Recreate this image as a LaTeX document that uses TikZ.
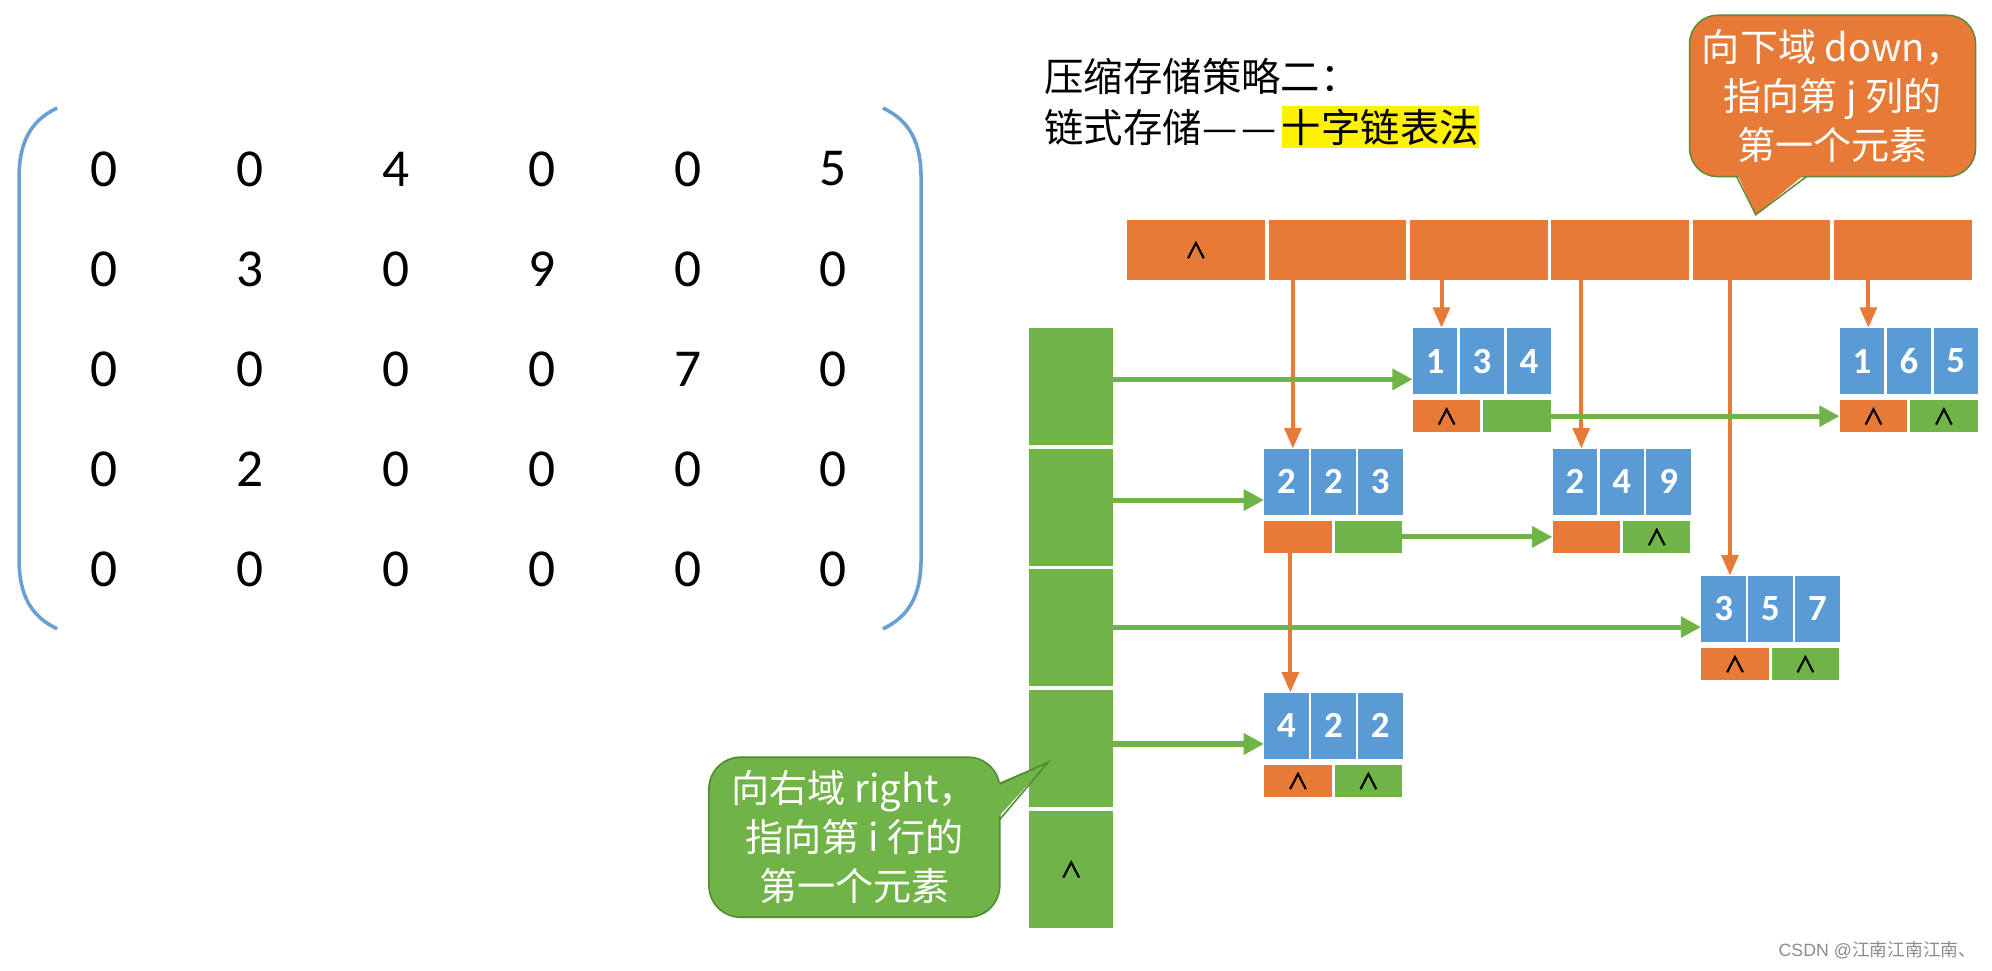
\documentclass[tikz,border=0pt]{standalone}
\usepackage{fontspec}
\setmainfont{Carlito}
\newfontfamily\cjk{Noto Sans CJK SC}
\newfontfamily\nulfont{Noto Sans CJK SC}[FakeBold=3]
\newfontfamily\wmfont{Liberation Sans}
\usetikzlibrary{positioning,arrows.meta,calc}
\definecolor{naranja}{HTML}{E67A36}
\definecolor{azul}{HTML}{5B9BD5}
\definecolor{verde}{HTML}{70B347}
\definecolor{oliva}{HTML}{62883A}
\definecolor{verdeosc}{HTML}{4F8A2E}
\definecolor{corchete}{HTML}{6A9FD4}
\definecolor{marca}{HTML}{8C8C8C}
\newcommand{\nulo}{{\nulfont\fontsize{17}{17}\selectfont ∧}}

\begin{document}
\begin{tikzpicture}[x=1pt, y=-1pt, font=\fontsize{29}{29}\selectfont,
      bc/.style={fill=azul, minimum width=35pt, minimum height=52pt, inner sep=0pt,
                 text=white, font=\bfseries\fontsize{29}{29}\selectfont},
      lc/.style={minimum width=53pt, minimum height=25pt, inner sep=0pt},
      dc/.style={lc, fill=naranja},
      rc/.style={lc, fill=verde},
      hc/.style={fill=naranja, minimum width=108.3pt, minimum height=47pt, inner sep=0pt, anchor=north west},
      vc/.style={fill=verde, minimum width=66pt, minimum height=92pt, inner sep=0pt, anchor=north west},
      dn/.style={naranja, line width=3.2pt, -{Triangle[length=16pt,width=13pt]}},
      rt/.style={verde, line width=4pt, -{Triangle[length=16pt,width=16pt]}},
      callo/.style={line width=1.2pt, text=white, align=center, inner sep=0pt,
                    font=\cjk\fontsize{30}{38.5}\selectfont},
      tt/.style={inner sep=0pt, font=\cjk\fontsize{31}{31}\selectfont}]
    \fill[white] (0,0) rectangle (1568,764);
    \useasboundingbox (0,0) rectangle (1568,764);

    % matriz
    \draw[corchete, line width=2.8pt] (45,85) .. controls (24,95) and (15,112) .. (15,140) -- (15,440)
        .. controls (15,468) and (24,485) .. (45,495);
    \draw[corchete, line width=2.8pt] (695,85) .. controls (716,95) and (725,112) .. (725,140) -- (725,440)
        .. controls (725,468) and (716,485) .. (695,495);
    \foreach \fila [count=\r] in {{0,0,4,0,0,5},{0,3,0,9,0,0},{0,0,0,0,7,0},{0,2,0,0,0,0},{0,0,0,0,0,0}}
      \foreach \v [count=\c] in \fila
        \node[font=\fontsize{42}{42}\selectfont] (m\r\c) at ({82+(\c-1)*114.8},{133+(\r-1)*78.75}) {\v};

    % titulo
    \node[tt, anchor=west] (tit1) at (822,60) {压缩存储策略二：};
    \node[tt, anchor=west] (tit2) at (822,100) {链式存储—\kern3pt—};
    \node[tt, right=4pt of tit2, fill=yellow, inner ysep=2.5pt] (hl) {十字链表法};

    % cabeceras
    \foreach \t [count=\k] in {\nulo,{},{},{},{},{}}
      \node[hc] (h\k) at ({887+(\k-1)*111.3},173) {\t};
    \foreach \t [count=\k] in {{},{},{},{},\nulo}
      \node[vc] (r\k) at (810,{258+(\k-1)*95}) {\t};

    % elementos
    \foreach \n/\px/\py/\a/\b/\c/\dd/\rr in {134/1112/258/1/3/4/\nulo/{}, 165/1448/258/1/6/5/\nulo/\nulo,
        223/995/353/2/2/3/{}/{}, 249/1222/353/2/4/9/{}/\nulo, 357/1339/453/3/5/7/\nulo/\nulo,
        422/995/545/4/2/2/\nulo/\nulo}{
      \node[bc, anchor=north west] (e\n-i) at (\px,\py) {\a};
      \node[bc, right=1.5pt of e\n-i] (e\n-j) {\b};
      \node[bc, right=1.5pt of e\n-j] (e\n-v) {\c};
      \node[dc, below=4.5pt of e\n-i.south west, anchor=north west] (e\n-d) {\dd};
      \node[rc, right=2pt of e\n-d] (e\n-r) {\rr};
      \coordinate (e\n-p) at ($(e\n-i.west)!0.55!(e\n-i.south west)$);
    }

    % down
    \foreach \k/\n in {2/223,3/134,4/249,5/357,6/165}
      \draw[dn] ([xshift=5pt]h\k.south -| e\n-i.north) -- ([xshift=5pt]e\n-i.north);
    \draw[dn] ([xshift=3pt]e223-d.south -| e422-i.north) -- ([xshift=3pt]e422-i.north);

    % right
    \foreach \k/\n in {1/134,2/223,3/357,4/422}
      \draw[rt] (r\k.east |- e\n-p) -- (e\n-p);
    \draw[rt] (e134-r.east) -- (e165-d.west);
    \draw[rt] (e223-r.east) -- (e249-d.west);

    % globos
    \node[callo, fill=naranja, draw=oliva, rounded corners=22pt, minimum width=225pt, minimum height=127pt]
        (cdown) at (1442.5,75.5) {向下域 down，\\指向第 j 列的\\第一个元素};
    \coordinate (cdown-tip) at (1382,169);
    \fill[naranja] (1367,136) -- (cdown-tip) -- (1422,136) -- cycle;
    \draw[oliva, line width=1.2pt] (1367,139) -- (cdown-tip) -- (1422,139);

    \node[callo, fill=verde, draw=verdeosc, rounded corners=25pt, minimum width=229pt, minimum height=126pt]
        (cright) at (672.5,659) {向右域 right，\\指向第 i 行的\\第一个元素};
    \coordinate (cright-tip) at (825,600);
    \fill[verde] (784,617) -- (cright-tip) -- (784,645) -- cycle;
    \draw[verdeosc, line width=1.2pt] (787,617) -- (cright-tip) -- (787,645);

    \node[anchor=east, inner sep=0pt, text=marca, font=\fontsize{14}{14}\selectfont] (wm) at (1556,748)
        {{\wmfont CSDN @}{\cjk 江南江南江南、}};
\end{tikzpicture}
\end{document}
